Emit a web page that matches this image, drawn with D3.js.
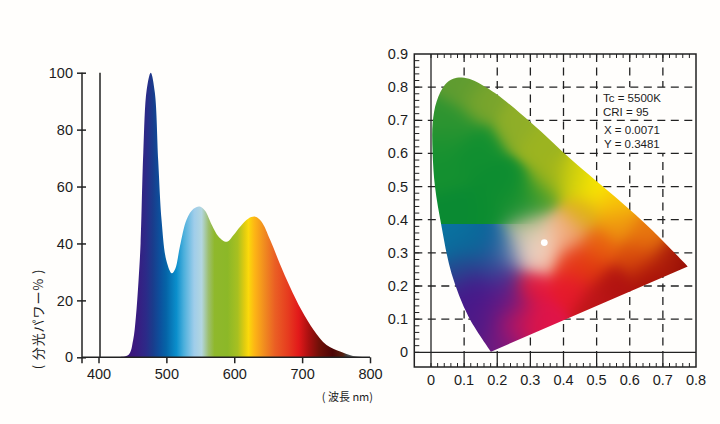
<!DOCTYPE html>
<html>
<head>
<meta charset="utf-8">
<script src="https://cdn.jsdelivr.net/npm/d3@7"></script>
<style>
  html, body { margin: 0; padding: 0; background: #fffefc; }
  svg { display: block; }
  text { font-family: "Liberation Sans", Arial, sans-serif; fill: #1c1c1c; }
</style>
</head>
<body>
<svg id="chart" width="720" height="424"></svg>
<script>
// spectrum: wavelength (nm) and relative power (%)
const wavelengths = [425, 444, 451, 455, 459, 462, 466, 471, 477, 483, 488, 493, 500, 508, 513, 520, 530, 540, 549, 557, 567, 577, 589, 599, 609, 621, 631, 640, 653, 667, 682, 699, 717, 736, 756, 775, 797];
const powers = [0.1, 0.8, 6, 14, 27, 40, 72, 94, 100, 93, 69, 48, 34, 29.5, 31, 39, 48.5, 52.2, 53, 51.5, 46.5, 42.4, 40.6, 43, 46, 48.8, 49.4, 47.7, 41.2, 33, 24.8, 16.6, 9.6, 4.3, 2, 0.5, 0.1];
const spectrumTicksX = [400, 500, 600, 700, 800];
const spectrumTicksY = [0, 20, 40, 60, 80, 100];

// colours under the curve
const stopNm = [440, 455, 470, 480, 490, 500, 515, 526, 541, 552, 562, 571, 590, 605, 615, 621, 630, 645, 660, 680, 695, 710, 725, 745, 760, 766, 790];
const stopColor = ["#3c1478", "#3a1a80", "#2c2a88", "#1a3c8c", "#0d4f9c", "#0565a8", "#0b8fcc", "#4db0dc", "#9fcdea", "#b3d6e0", "#9dbf6f", "#8fb82c", "#8cb828", "#a8c020", "#e0cc10", "#fbd90b", "#fdb515", "#f08a20", "#ea5f24", "#e63a1f", "#e2191a", "#a81010", "#701008", "#4d0505", "#552010", "#444444", "#999999"];

// chromaticity diagram
const chromaTicksX = [0, 0.1, 0.2, 0.3, 0.4, 0.5, 0.6, 0.7, 0.8];
const chromaTicksY = [0, 0.1, 0.2, 0.3, 0.4, 0.5, 0.6, 0.7, 0.8, 0.9];
const locusX = [0.181, 0.113, 0.062, 0.032, 0.012, 0.005, 0.005, 0.017, 0.042, 0.067, 0.093, 0.123, 0.193, 0.304, 0.425, 0.566, 0.667, 0.775];
const locusY = [0.002, 0.108, 0.238, 0.379, 0.5, 0.6, 0.691, 0.757, 0.807, 0.825, 0.829, 0.822, 0.782, 0.691, 0.58, 0.46, 0.369, 0.259];
const whitePoint = [0.342, 0.331];
const noteLines = ["Tc = 5500K", "CRI = 95", "X = 0.0071", "Y = 0.3481"];

// colours read at spots inside the horseshoe
// side: 1 only above the y=0.39 edge, -1 only below it, 0 both
const spotX = [0.09, 0.03, 0.15, 0.25, 0.33, 0.04, 0.12, 0.2, 0.07, 0.18, 0.25, 0.32, 0.36, 0.43, 0.49, 0.55, 0.45, 0.56, 0.65, 0.62, 0.72, 0.77, 0.66, 0.55, 0.5, 0.47, 0.42, 0.3, 0.33, 0.27, 0.23, 0.2, 0.13, 0.2, 0.17, 0.22, 0.07, 0.13, 0.2, 0.1, 0.05, 0.18, 0.24, 0.33, 0.38, 0.3, 0.33, 0.28, 0.3, 0.41, 0.08, 0.15, 0.24, 0.04, 0.28, 0.24, 0.5, 0.42];
const spotY = [0.8, 0.7, 0.75, 0.68, 0.62, 0.55, 0.6, 0.52, 0.43, 0.42, 0.43, 0.47, 0.53, 0.52, 0.5, 0.45, 0.42, 0.39, 0.35, 0.29, 0.28, 0.26, 0.23, 0.2, 0.15, 0.26, 0.2, 0.2, 0.1, 0.1, 0.06, 0.02, 0.2, 0.15, 0.07, 0.22, 0.33, 0.33, 0.33, 0.26, 0.37, 0.27, 0.3, 0.34, 0.36, 0.31, 0.3, 0.35, 0.38, 0.36, 0.68, 0.62, 0.5, 0.63, 0.45, 0.14, 0.32, 0.28];
const spotColor = ["#5f9c30", "#2f9430", "#7aa52c", "#8fae28", "#9cb420", "#149030", "#0f8e30", "#0c8c30", "#0a8a32", "#0a8c30", "#1c9030", "#4fa028", "#a0b41c", "#d0d00c", "#fbe800", "#f8c808", "#dcb018", "#ee9410", "#e8780e", "#d94a0c", "#b0200a", "#920a06", "#a8100a", "#b01210", "#bc1518", "#e0380f", "#e6192c", "#e5173a", "#e01448", "#d0154e", "#a81470", "#6a1a80", "#47188a", "#4f1888", "#4a1a88", "#4a2a90", "#0a6a9c", "#0a6a9a", "#0d5f9c", "#25488f", "#0a74a0", "#2b4c95", "#7080b0", "#f8d8c8", "#f5bd98", "#f8e0d0", "#f0c0a8", "#c8c8b0", "#b8b888", "#eea070", "#2a9430", "#129030", "#0f8e30", "#1a9230", "#129030", "#781a80", "#e8600f", "#e83818"];
const spotSide = [1, 1, 1, 1, 1, 1, 1, 1, 1, 1, 1, 1, 0, 0, 0, 0, 0, 0, 0, 0, 0, 0, 0, 0, 0, 0, 0, 0, 0, 0, 0, 0, -1, -1, -1, -1, -1, -1, -1, -1, -1, -1, -1, 0, 0, 0, 0, 0, 0, 0, 1, 1, 1, 1, 1, 0, 0, 0];

const svg = d3.select("#chart");
const defs = svg.append("defs");

// ---- left: spectrum
const x = d3.scaleLinear().domain([400, 800]).range([98.5, 370]);
const y = d3.scaleLinear().domain([0, 100]).range([357.3, 72.7]);

const grad = defs.append("linearGradient")
  .attr("id", "rainbow")
  .attr("gradientUnits", "userSpaceOnUse")
  .attr("x1", x(400)).attr("x2", x(800))
  .attr("y1", 0).attr("y2", 0);
stopNm.forEach((nm, i) => {
  grad.append("stop")
    .attr("offset", (nm - 400) / 400)
    .attr("stop-color", stopColor[i]);
});

const area = d3.area()
  .x((d, i) => x(wavelengths[i]))
  .y0(y(0))
  .y1(d => y(d))
  .curve(d3.curveCatmullRom);

svg.append("path")
  .datum(powers)
  .attr("d", area)
  .attr("fill", "url(#rainbow)");

const axisLeft = svg.append("g")
  .attr("transform", "translate(82,0)")
  .call(d3.axisLeft(y).tickValues(spectrumTicksY).tickSize(7).tickPadding(2).tickFormat(d3.format("d")));
const axisBottom = svg.append("g")
  .attr("transform", "translate(0," + y(0) + ")")
  .call(d3.axisBottom(x).tickValues(spectrumTicksX).tickSize(6).tickPadding(5).tickFormat(d3.format("d")));
[axisLeft, axisBottom].forEach(g => {
  g.select(".domain").remove();
  g.selectAll("line").attr("stroke", "#222").attr("stroke-width", 1.5);
  g.selectAll("text").style("font-size", "14.5px").style("font-family", "Liberation Sans");
});
axisLeft.selectAll(".tick line").attr("x2", 4).attr("x1", -5);

svg.append("line").attr("x1", 82).attr("x2", 82).attr("y1", y(100)).attr("y2", y(0) + 6)
  .attr("stroke", "#222").attr("stroke-width", 1.5);
svg.append("line").attr("x1", 82).attr("x2", x(800)).attr("y1", y(0)).attr("y2", y(0))
  .attr("stroke", "#222").attr("stroke-width", 1.5);
svg.append("line").attr("x1", x(400) + 1.5).attr("x2", x(400) + 1.5).attr("y1", y(100)).attr("y2", y(0))
  .attr("stroke", "#222").attr("stroke-width", 1.5);

svg.append("text")
  .attr("transform", "translate(43,319) rotate(-90)")
  .attr("text-anchor", "middle")
  .style("font-size", "13px")
  .style("letter-spacing", "0.9px")
  .style("font-family", "Noto Sans CJK JP")
  .text("( 分光パワー% )");
svg.append("text")
  .attr("x", 373).attr("y", 401)
  .attr("text-anchor", "end")
  .style("font-size", "11px")
  .style("font-family", "Noto Sans CJK JP")
  .text("( 波長 nm)");

// ---- right: chromaticity diagram
const cx = d3.scaleLinear().domain([0, 0.8]).range([431, 696]);
const cy = d3.scaleLinear().domain([0, 0.9]).range([352.3, 54]);
const frameLeft = 414.3, frameBottom = 367;
const gridColor = "#222";

const locus = d3.line()
  .x((d, i) => cx(locusX[i]))
  .y(d => cy(d))
  .curve(d3.curveCatmullRom);
const locusPath = locus(locusY) + "Z";

defs.append("clipPath").attr("id", "shoe").append("path").attr("d", locusPath);

// grid goes first, the horseshoe covers it
const frame = svg.append("g");
chromaTicksX.slice(1, -1).forEach(v => {
  frame.append("line").attr("x1", cx(v)).attr("x2", cx(v)).attr("y1", cy(0.9)).attr("y2", cy(0))
    .attr("stroke", gridColor).attr("stroke-width", 1.3).attr("stroke-dasharray", "8,5.5");
  frame.append("line").attr("x1", cx(v)).attr("x2", cx(v)).attr("y1", cy(0)).attr("y2", frameBottom)
    .attr("stroke", gridColor).attr("stroke-width", 1.3);
});
// note area has no vertical grid
frame.append("rect")
  .attr("x", cx(0.52)).attr("width", cx(0.72) - cx(0.52))
  .attr("y", cy(0.8)).attr("height", cy(0.6) - cy(0.8))
  .attr("fill", "#fffefc");
chromaTicksY.slice(1, -1).forEach(v => {
  frame.append("line").attr("x1", frameLeft).attr("x2", cx(0.8)).attr("y1", cy(v)).attr("y2", cy(v))
    .attr("stroke", gridColor).attr("stroke-width", 1.3).attr("stroke-dasharray", "8,5.5");
});
d3.range(0, 45).forEach(i => {
  frame.append("line").attr("x1", frameLeft).attr("x2", frameLeft + 5).attr("y1", cy(i * 0.02)).attr("y2", cy(i * 0.02))
    .attr("stroke", gridColor).attr("stroke-width", 1);
});
d3.range(0, 40).forEach(i => {
  frame.append("line").attr("x1", cx(i * 0.02)).attr("x2", cx(i * 0.02)).attr("y1", cy(0.9)).attr("y2", cy(0.9) + 4)
    .attr("stroke", gridColor).attr("stroke-width", 1);
  frame.append("line").attr("x1", cx(i * 0.02)).attr("x2", cx(i * 0.02)).attr("y1", frameBottom).attr("y2", frameBottom - 4)
    .attr("stroke", gridColor).attr("stroke-width", 1);
});

// colour field: each pixel is a gaussian weighted mean of the read spots
const spotRgb = spotColor.map(c => d3.rgb(c));
const fieldW = Math.round(cx(0.8) - cx(0)), fieldH = Math.round(cy(0) - cy(0.9));
const canvas = document.createElement("canvas");
canvas.width = fieldW;
canvas.height = fieldH;
const ctx = canvas.getContext("2d");
const img = ctx.createImageData(fieldW, fieldH);
const sigma = 0.038;
for (let j = 0; j < fieldH; j++) {
  const py = cy.invert(cy(0.9) + j);
  for (let i = 0; i < fieldW; i++) {
    const px = cx.invert(cx(0) + i);
    // the green/blue edge is sharp on the left and fades out towards the glow
    const leak = Math.min(1, Math.max(0, (px - 0.2) / 0.12));
    let r = 0, g = 0, b = 0, sum = 0;
    spotX.forEach((sx, k) => {
      const wrongSide = (spotSide[k] === 1 && py < 0.39) || (spotSide[k] === -1 && py >= 0.39);
      const d2 = (px - sx) * (px - sx) + (py - spotY[k]) * (py - spotY[k]);
      const w = (wrongSide ? leak : 1) * Math.exp(-d2 / (2 * sigma * sigma)) + 1e-12;
      r += w * spotRgb[k].r; g += w * spotRgb[k].g; b += w * spotRgb[k].b;
      sum += w;
    });
    const o = (j * fieldW + i) * 4;
    img.data[o] = r / sum; img.data[o + 1] = g / sum; img.data[o + 2] = b / sum; img.data[o + 3] = 255;
  }
}
ctx.putImageData(img, 0, 0);

svg.append("g").attr("clip-path", "url(#shoe)")
  .append("image")
  .attr("x", cx(0)).attr("y", cy(0.9))
  .attr("width", fieldW).attr("height", fieldH)
  .attr("href", canvas.toDataURL());

svg.append("circle")
  .attr("cx", cx(whitePoint[0])).attr("cy", cy(whitePoint[1])).attr("r", 3.4)
  .attr("fill", "#fff");

// frame and the two zero lines sit on top
svg.append("rect")
  .attr("x", frameLeft).attr("y", cy(0.9))
  .attr("width", cx(0.8) - frameLeft).attr("height", frameBottom - cy(0.9))
  .attr("fill", "none").attr("stroke", gridColor).attr("stroke-width", 1.5);
svg.append("line").attr("x1", frameLeft).attr("x2", cx(0.8)).attr("y1", cy(0)).attr("y2", cy(0))
  .attr("stroke", gridColor).attr("stroke-width", 1.3);
svg.append("line").attr("x1", cx(0)).attr("x2", cx(0)).attr("y1", cy(0.9)).attr("y2", frameBottom)
  .attr("stroke", gridColor).attr("stroke-width", 1.3);

svg.append("g").selectAll("text").data(chromaTicksY).enter().append("text")
  .attr("x", 408).attr("y", d => cy(d) + 5)
  .attr("text-anchor", "end")
  .style("font-size", "14.5px")
  .text(d => d);
svg.append("g").selectAll("text").data(chromaTicksX).enter().append("text")
  .attr("x", d => cx(d)).attr("y", 385)
  .attr("text-anchor", "middle")
  .style("font-size", "14.5px")
  .text(d => d);

const noteY = [102, 116, 134, 148];
const noteX = [603, 603, 604, 604];
noteLines.forEach((t, i) => {
  svg.append("text").attr("x", noteX[i]).attr("y", noteY[i])
    .style("font-size", "11.5px")
    .text(t);
});
</script>
</body>
</html>
